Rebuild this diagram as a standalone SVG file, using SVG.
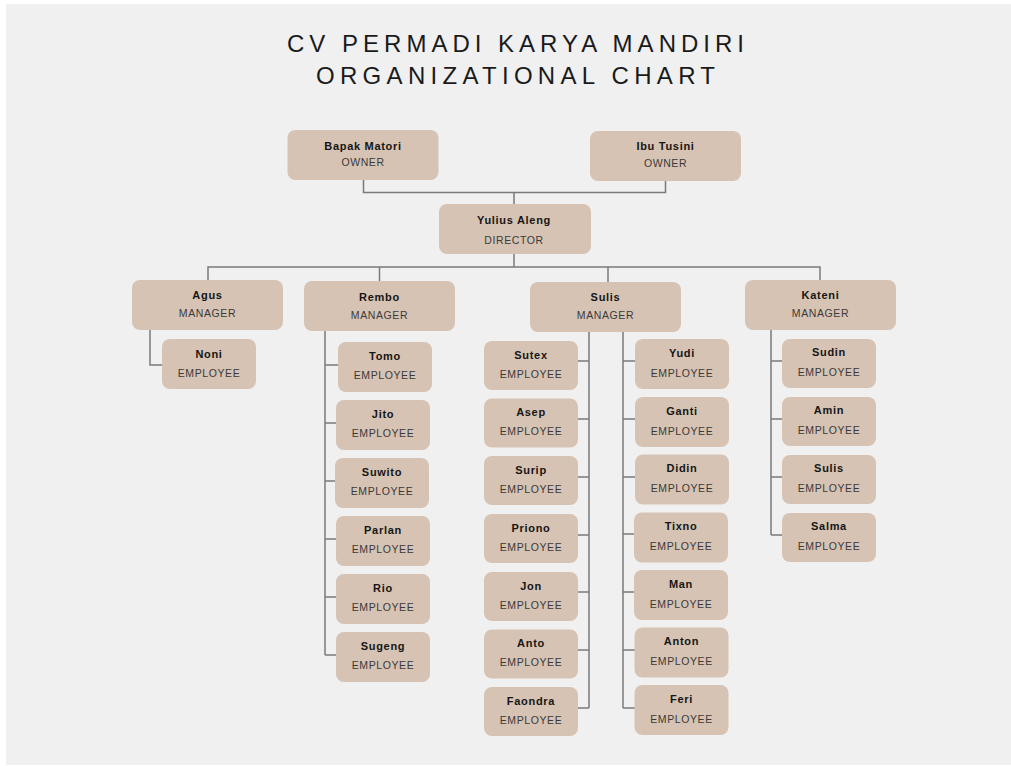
<svg xmlns="http://www.w3.org/2000/svg" width="1011" height="766" viewBox="0 0 1011 766">
<style>
.bg{fill:#f0f0f0}
.box{fill:#d6c3b3}
.nm{font-family:"Liberation Sans",Arial,sans-serif;font-weight:bold;font-size:11px;letter-spacing:0.7px;fill:#151515;text-anchor:middle}
.rl{font-family:"Liberation Sans",Arial,sans-serif;font-size:10.5px;letter-spacing:0.6px;fill:#3a3a3a;text-anchor:middle}
.ttl{font-family:"Liberation Sans",Arial,sans-serif;font-size:24px;fill:#1a1a1a}
.ln{fill:none;stroke:#7a7a7a;stroke-width:1.5}
</style>
<rect x="0" y="0" width="1011" height="766" fill="#ffffff"/>
<rect class="bg" x="6" y="4" width="1005" height="761"/>
<g id="title">
<text class="ttl" x="287" y="52" textLength="457" lengthAdjust="spacing">CV PERMADI KARYA MANDIRI</text>
<text class="ttl" x="316" y="84" textLength="399" lengthAdjust="spacing">ORGANIZATIONAL CHART</text>
</g>
<g id="connectors">
<path class="ln" d="M363.5 180V192.5H665.5V181M514 192.5V204"/>
<path class="ln" d="M514 254V267M208 280V267H820V280M379.5 267V281M608 267V282"/>
<path class="ln" d="M150 330V365H162"/>
<path class="ln" d="M325 331V655M325 365H338M325 423H336M325 481H335M325 539H336M325 597H336M325 655H336"/>
<path class="ln" d="M589 332V708M578 361H589M578 419H589M578 477H589M578 535H589M578 592H589M578 650H589M578 708H589"/>
<path class="ln" d="M623 332V708M623 361H635M623 419H635M623 477H635M623 534H635M623 592H635M623 650H635M623 708H635"/>
<path class="ln" d="M771 330V535M771 361H782M771 419H782M771 477H782M771 535H782"/>
</g>
<g id="owner-matori"><rect class="box" x="287.5" y="130" width="151" height="50" rx="8"/><text class="nm" x="363" y="149.5">Bapak Matori</text><text class="rl" x="363" y="166">OWNER</text></g>
<g id="owner-tusini"><rect class="box" x="590" y="131" width="151" height="50" rx="8"/><text class="nm" x="665.5" y="150">Ibu Tusini</text><text class="rl" x="665.5" y="166.5">OWNER</text></g>
<g id="director"><rect class="box" x="439" y="204" width="152" height="50" rx="8"/><text class="nm" x="514" y="224">Yulius Aleng</text><text class="rl" x="514" y="244">DIRECTOR</text></g>
<g id="mgr-agus"><rect class="box" x="132" y="280" width="151" height="50" rx="8"/><text class="nm" x="207.5" y="299">Agus</text><text class="rl" x="207.5" y="317">MANAGER</text></g>
<g id="mgr-rembo"><rect class="box" x="304" y="281" width="151" height="50" rx="8"/><text class="nm" x="379.5" y="300.5">Rembo</text><text class="rl" x="379.5" y="318.5">MANAGER</text></g>
<g id="mgr-sulis"><rect class="box" x="530" y="282" width="151" height="50" rx="8"/><text class="nm" x="605.5" y="300.5">Sulis</text><text class="rl" x="605.5" y="318.5">MANAGER</text></g>
<g id="mgr-kateni"><rect class="box" x="745" y="280" width="151" height="50" rx="8"/><text class="nm" x="820.5" y="298.5">Kateni</text><text class="rl" x="820.5" y="316.5">MANAGER</text></g>
<g id="emp-noni"><rect class="box" x="162" y="339" width="94" height="50" rx="8"/><text class="nm" x="209" y="358">Noni</text><text class="rl" x="209" y="376.5">EMPLOYEE</text></g>
<g id="emp-tomo"><rect class="box" x="338" y="342" width="94" height="50" rx="8"/><text class="nm" x="385" y="359.5">Tomo</text><text class="rl" x="385" y="378.5">EMPLOYEE</text></g>
<g id="emp-jito"><rect class="box" x="336" y="400" width="94" height="50" rx="8"/><text class="nm" x="383" y="417.5">Jito</text><text class="rl" x="383" y="436.5">EMPLOYEE</text></g>
<g id="emp-suwito"><rect class="box" x="335" y="458" width="94" height="50" rx="8"/><text class="nm" x="382" y="475.5">Suwito</text><text class="rl" x="382" y="494.5">EMPLOYEE</text></g>
<g id="emp-parlan"><rect class="box" x="336" y="516" width="94" height="50" rx="8"/><text class="nm" x="383" y="533.5">Parlan</text><text class="rl" x="383" y="552.5">EMPLOYEE</text></g>
<g id="emp-rio"><rect class="box" x="336" y="574" width="94" height="50" rx="8"/><text class="nm" x="383" y="591.5">Rio</text><text class="rl" x="383" y="610.5">EMPLOYEE</text></g>
<g id="emp-sugeng"><rect class="box" x="336" y="632" width="94" height="50" rx="8"/><text class="nm" x="383" y="649.5">Sugeng</text><text class="rl" x="383" y="668.5">EMPLOYEE</text></g>
<g id="emp-sutex"><rect class="box" x="484" y="341" width="94" height="49" rx="8"/><text class="nm" x="531" y="358.5">Sutex</text><text class="rl" x="531" y="377.5">EMPLOYEE</text></g>
<g id="emp-asep"><rect class="box" x="484" y="398.5" width="94" height="49" rx="8"/><text class="nm" x="531" y="416">Asep</text><text class="rl" x="531" y="435">EMPLOYEE</text></g>
<g id="emp-surip"><rect class="box" x="484" y="456" width="94" height="49" rx="8"/><text class="nm" x="531" y="473.5">Surip</text><text class="rl" x="531" y="492.5">EMPLOYEE</text></g>
<g id="emp-priono"><rect class="box" x="484" y="514" width="94" height="49" rx="8"/><text class="nm" x="531" y="531.5">Priono</text><text class="rl" x="531" y="550.5">EMPLOYEE</text></g>
<g id="emp-jon"><rect class="box" x="484" y="572" width="94" height="49" rx="8"/><text class="nm" x="531" y="589.5">Jon</text><text class="rl" x="531" y="608.5">EMPLOYEE</text></g>
<g id="emp-anto"><rect class="box" x="484" y="629.5" width="94" height="49" rx="8"/><text class="nm" x="531" y="647">Anto</text><text class="rl" x="531" y="666">EMPLOYEE</text></g>
<g id="emp-faondra"><rect class="box" x="484" y="687" width="94" height="49" rx="8"/><text class="nm" x="531" y="704.5">Faondra</text><text class="rl" x="531" y="723.5">EMPLOYEE</text></g>
<g id="emp-yudi"><rect class="box" x="635" y="339" width="94" height="50" rx="8"/><text class="nm" x="682" y="356.5">Yudi</text><text class="rl" x="682" y="376.5">EMPLOYEE</text></g>
<g id="emp-ganti"><rect class="box" x="635" y="397" width="94" height="50" rx="8"/><text class="nm" x="682" y="414.5">Ganti</text><text class="rl" x="682" y="434.5">EMPLOYEE</text></g>
<g id="emp-didin"><rect class="box" x="635" y="454.5" width="94" height="50" rx="8"/><text class="nm" x="682" y="472">Didin</text><text class="rl" x="682" y="492">EMPLOYEE</text></g>
<g id="emp-tixno"><rect class="box" x="634" y="512.5" width="94" height="50" rx="8"/><text class="nm" x="681" y="530">Tixno</text><text class="rl" x="681" y="550">EMPLOYEE</text></g>
<g id="emp-man"><rect class="box" x="634" y="570" width="94" height="50" rx="8"/><text class="nm" x="681" y="587.5">Man</text><text class="rl" x="681" y="607.5">EMPLOYEE</text></g>
<g id="emp-anton"><rect class="box" x="634.5" y="627.5" width="94" height="50" rx="8"/><text class="nm" x="681.5" y="645">Anton</text><text class="rl" x="681.5" y="665">EMPLOYEE</text></g>
<g id="emp-feri"><rect class="box" x="634.5" y="685" width="94" height="50" rx="8"/><text class="nm" x="681.5" y="702.5">Feri</text><text class="rl" x="681.5" y="722.5">EMPLOYEE</text></g>
<g id="emp-sudin"><rect class="box" x="782" y="339" width="94" height="49" rx="8"/><text class="nm" x="829" y="356">Sudin</text><text class="rl" x="829" y="376">EMPLOYEE</text></g>
<g id="emp-amin"><rect class="box" x="782" y="397" width="94" height="49" rx="8"/><text class="nm" x="829" y="414">Amin</text><text class="rl" x="829" y="434">EMPLOYEE</text></g>
<g id="emp-sulis2"><rect class="box" x="782" y="455" width="94" height="49" rx="8"/><text class="nm" x="829" y="472">Sulis</text><text class="rl" x="829" y="492">EMPLOYEE</text></g>
<g id="emp-salma"><rect class="box" x="782" y="513" width="94" height="49" rx="8"/><text class="nm" x="829" y="530">Salma</text><text class="rl" x="829" y="550">EMPLOYEE</text></g>
</svg>
